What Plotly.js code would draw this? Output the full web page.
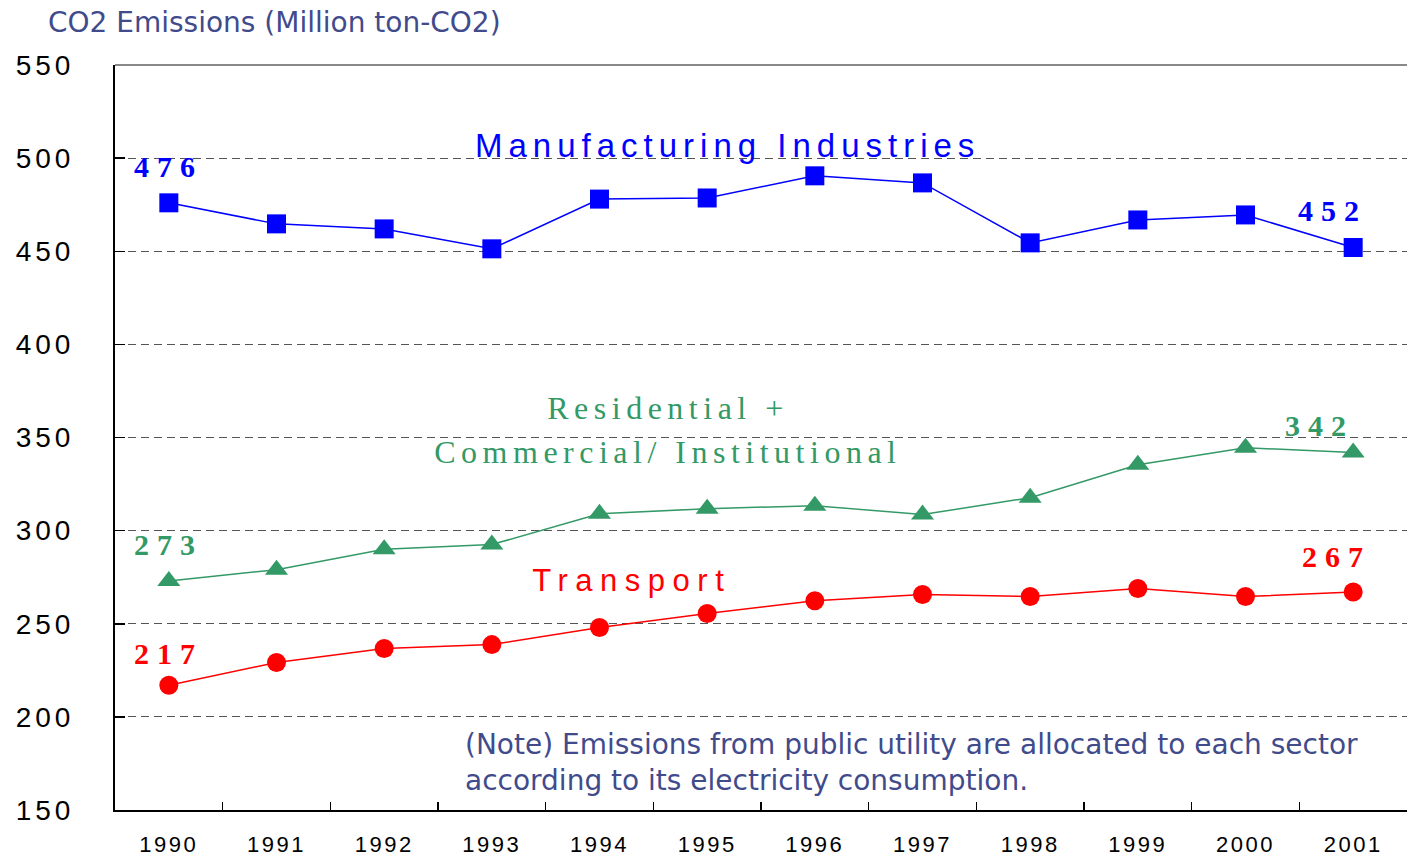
<!DOCTYPE html>
<html>
<head>
<meta charset="utf-8">
<script src="https://cdn.plot.ly/plotly-3.0.1.min.js"></script>
<style>
  html, body { margin: 0; padding: 0; background: #fff; }
  #chart { width: 1407px; height: 856px; }
  .ytick text { letter-spacing: 4px; }
  .xtick text { letter-spacing: 2.5px; }
  g.annotation[data-index="0"] text { letter-spacing: 6px; }
  g.annotation[data-index="1"] text { letter-spacing: 5.5px; }
  g.annotation[data-index="2"] text { letter-spacing: 5.5px; }
  g.annotation[data-index="3"] text { letter-spacing: 7.5px; }
  g.annotation[data-index="5"] text, g.annotation[data-index="6"] text,
  g.annotation[data-index="7"] text, g.annotation[data-index="8"] text,
  g.annotation[data-index="9"] text, g.annotation[data-index="10"] text { letter-spacing: 8px; }
</style>
</head>
<body>
<div id="chart"></div>
<script>
const years = ['1990','1991','1992','1993','1994','1995','1996','1997','1998','1999','2000','2001'];
const manufacturing = [476, 464.7, 462, 451.3, 478, 478.6, 490.5, 486.7, 454.5, 466.8, 469.5, 452];
const residential   = [273, 279, 290, 292.5, 309, 311.8, 313.4, 308.6, 317.7, 335.4, 344.5, 342];
const transport     = [217, 229.2, 236.7, 238.8, 248, 255.5, 262.4, 265.7, 264.6, 268.9, 264.6, 267];
const yTicks = [150, 200, 250, 300, 350, 400, 450, 500, 550];

const BLUE = '#0000ff', GREEN = '#339966', RED = '#ff0000', NAVY = '#414b8c';
const noteFont = "'DejaVu Sans', sans-serif";

const traces = [
  { x: years, y: manufacturing, type: 'scatter', mode: 'lines+markers', name: 'Manufacturing Industries',
    line: { color: BLUE, width: 1.5 }, marker: { symbol: 'square', size: 19, color: BLUE } },
  { x: years, y: residential, type: 'scatter', mode: 'lines+markers', name: 'Residential + Commercial/ Institutional',
    line: { color: GREEN, width: 1.5 }, marker: { symbol: 'triangle-up', size: 20, color: GREEN } },
  { x: years, y: transport, type: 'scatter', mode: 'lines+markers', name: 'Transport',
    line: { color: RED, width: 1.5 }, marker: { symbol: 'circle', size: 19, color: RED } }
];

function lbl(series, i, color, xs, ys) {
  return { x: i, y: series[i], xref: 'x', yref: 'y', text: String(Math.round(series[i])),
    showarrow: false, xanchor: 'center', yanchor: 'middle', xshift: xs, yshift: ys,
    font: { family: "'Liberation Serif', serif", size: 30, color: color, weight: 700 } };
}
const last = years.length - 1;

function note(x, y, text, font, extra) {
  return Object.assign({ xref: 'paper', yref: 'paper', x: x, y: y, text: text, showarrow: false,
    xanchor: 'center', yanchor: 'middle', font: font }, extra || {});
}

const annotations = [
  note(0.4737, 0.8926, 'Manufacturing Industries',
    { family: "'Liberation Sans', Arial, sans-serif", size: 33, color: BLUE }),
  note(0.428, 0.5396, 'Residential +', { family: "'Liberation Serif', serif", size: 32, color: GREEN }),
  note(0.428, 0.4805, 'Commercial/ Institutional', { family: "'Liberation Serif', serif", size: 32, color: GREEN }),
  note(0.400, 0.3087, 'Transport', { family: "'Liberation Sans', Arial, sans-serif", size: 31, color: RED }),
  note(0.2693, 0.0644,
    '(Note) Emissions from public utility are allocated to each sector<br>according to its electricity consumption.',
    { family: noteFont, size: 28, color: NAVY }, { xanchor: 'left', align: 'left' }),
  lbl(manufacturing, 0, BLUE, 0, 36),
  lbl(manufacturing, last, BLUE, -21, 37),
  lbl(residential, 0, GREEN, 0, 36),
  lbl(residential, last, GREEN, -34, 27),
  lbl(transport, 0, RED, 0, 32),
  lbl(transport, last, RED, -17, 36)
];

const layout = {
  width: 1407, height: 856,
  margin: { l: 115, r: 0, t: 65, b: 46 },
  paper_bgcolor: '#fff', plot_bgcolor: '#fff',
  showlegend: false,
  title: { text: 'CO2 Emissions (Million ton-CO2)', xref: 'container', yref: 'container',
    x: 0.0341, xanchor: 'left', y: 0.974, yanchor: 'middle',
    font: { family: noteFont, size: 28, color: NAVY } },
  xaxis: { type: 'category', range: [-0.5, 11.5], tickvals: years,
    showgrid: false, zeroline: false, showline: true, linecolor: '#000', linewidth: 2,
    ticks: 'inside', tickson: 'boundaries', ticklen: 8, tickwidth: 1.5, tickcolor: '#000',
    ticklabelstandoff: 14,
    tickfont: { family: "'Liberation Sans', Arial, sans-serif", size: 22, color: '#000' } },
  yaxis: { range: [150, 550], tickvals: yTicks, showgrid: true, gridcolor: '#555', gridwidth: 1.2,
    griddash: '8px,5px', zeroline: false, showline: true, linecolor: '#000', linewidth: 2,
    ticks: 'inside', ticklen: 10, tickwidth: 1.5, tickcolor: '#000',
    ticklabelstandoff: 33,
    tickfont: { family: "'Liberation Sans', Arial, sans-serif", size: 28, color: '#000' } },
  shapes: [
    { type: 'line', xref: 'paper', yref: 'paper', x0: 0, x1: 1, y0: 1, y1: 1,
      line: { color: '#888', width: 2 } }
  ],
  annotations: annotations
};

Plotly.newPlot('chart', traces, layout, { displayModeBar: false, staticPlot: true });
</script>
</body>
</html>
